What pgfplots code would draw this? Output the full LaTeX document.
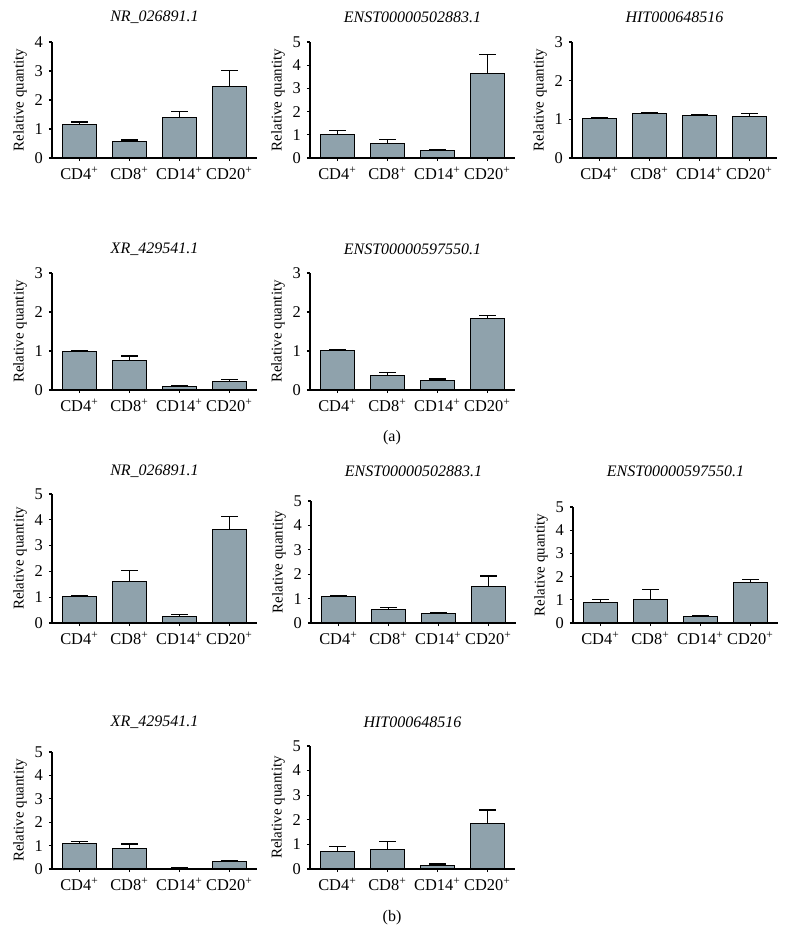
\documentclass[border=0pt]{standalone}
\usepackage{pgfplots}
\pgfplotsset{compat=1.18}
\usepackage{fontspec}
\setmainfont{Liberation Serif}
\definecolor{barc}{RGB}{143,162,172}
\pgfplotsset{
  qp/.style={
    ybar, scale only axis, width=102.5pt,
    bar width=17pt,
    xmin=-0.55, xmax=3.55, ymin=0,
    xtick={0,1,2,3},
    xticklabels={CD4\textsuperscript{+},CD8\textsuperscript{+},CD14\textsuperscript{+},CD20\textsuperscript{+}},
    axis lines*=left,
    axis line style={line width=0.6pt},
    tick align=outside, major tick length=1.6pt,
    every tick/.style={black, line width=0.6pt},
    tick label style={font=\fontsize{8.2}{9}\selectfont},
    /pgf/number format/assume math mode=true,
    xticklabel style={yshift=0.5pt},
    yticklabel style={xshift=0.5pt},
    ylabel={Relative quantity},
    ylabel style={at={(axis description cs:-0.156,0.5)}, anchor=center, font=\fontsize{7.5}{9}\selectfont},
    title style={at={(axis description cs:0.5,1)}, anchor=center, font=\fontsize{8}{9}\selectfont\itshape},
    anchor=south west,
    clip=false,
  },
  qb/.style={fill=barc, draw=black, line width=0.5pt,
    error bars/y dir=plus, error bars/y explicit,
    error bars/error bar style={line width=0.6pt, black},
    error bars/error mark=|,
    error bars/error mark options={mark size=4.25pt, line width=0.6pt, black}},
}
\begin{document}
\begin{tikzpicture}
\path[use as bounding box] (0,0) rectangle (393pt,476pt);
% ---------- (a) row 1 ----------
\begin{axis}[qp, at={(26pt,397pt)}, height=58pt, ymax=4, ytick={0,1,2,3,4},
  title={NR\_026891.1}, title style={yshift=6.5pt}]
\addplot[qb] coordinates {(0,1.14) +- (0,0.10) (1,0.56) +- (0,0.06) (2,1.39) +- (0,0.21) (3,2.47) +- (0,0.54)};
\end{axis}
\begin{axis}[qp, at={(155pt,397pt)}, height=58pt, ymax=5, ytick={0,1,2,3,4,5},
  title={ENST00000502883.1}, title style={yshift=6.5pt}]
\addplot[qb] coordinates {(0,1.00) +- (0,0.17) (1,0.64) +- (0,0.16) (2,0.33) +- (0,0.05) (3,3.65) +- (0,0.82)};
\end{axis}
\begin{axis}[qp, at={(286pt,397pt)}, height=58pt, ymax=3, ytick={0,1,2,3},
  title={HIT000648516}, title style={yshift=6.5pt}]
\addplot[qb] coordinates {(0,1.02) +- (0,0.03) (1,1.15) +- (0,0.03) (2,1.09) +- (0,0.02) (3,1.07) +- (0,0.08)};
\end{axis}
% ---------- (a) row 2 ----------
\begin{axis}[qp, at={(26pt,281pt)}, height=58.5pt, ymax=3, ytick={0,1,2,3},
  title={XR\_429541.1}, title style={yshift=6pt}]
\addplot[qb] coordinates {(0,0.99) +- (0,0.03) (1,0.76) +- (0,0.11) (2,0.08) +- (0,0.03) (3,0.22) +- (0,0.05)};
\end{axis}
\begin{axis}[qp, at={(155pt,281pt)}, height=58.5pt, ymax=3, ytick={0,1,2,3},
  title={ENST00000597550.1}, title style={yshift=6pt}]
\addplot[qb] coordinates {(0,1.01) +- (0,0.02) (1,0.38) +- (0,0.07) (2,0.25) +- (0,0.03) (3,1.84) +- (0,0.06)};
\end{axis}
\node[font=\fontsize{8}{9}\selectfont] at (196pt,257pt) {(a)};
% ---------- (b) row 1 ----------
\begin{axis}[qp, at={(26pt,164.5pt)}, height=64.5pt, ymax=5, ytick={0,1,2,3,4,5},
  title={NR\_026891.1}, title style={yshift=5.5pt}]
\addplot[qb] coordinates {(0,1.01) +- (0,0.05) (1,1.60) +- (0,0.42) (2,0.26) +- (0,0.08) (3,3.62) +- (0,0.50)};
\end{axis}
\begin{axis}[qp, at={(155.5pt,164.5pt)}, height=61pt, ymax=5, ytick={0,1,2,3,4,5},
  title={ENST00000502883.1}, title style={yshift=9pt}]
\addplot[qb] coordinates {(0,1.08) +- (0,0.06) (1,0.54) +- (0,0.11) (2,0.37) +- (0,0.07) (3,1.50) +- (0,0.43)};
\end{axis}
\begin{axis}[qp, at={(286.5pt,164.5pt)}, height=58pt, ymax=5, ytick={0,1,2,3,4,5},
  title={ENST00000597550.1}, title style={yshift=12pt}]
\addplot[qb] coordinates {(0,0.87) +- (0,0.14) (1,1.03) +- (0,0.43) (2,0.26) +- (0,0.04) (3,1.76) +- (0,0.10)};
\end{axis}
% ---------- (b) row 2 ----------
\begin{axis}[qp, at={(26pt,41.5pt)}, height=58.5pt, ymax=5, ytick={0,1,2,3,4,5},
  title={XR\_429541.1}, title style={yshift=9pt}]
\addplot[qb] coordinates {(0,1.10) +- (0,0.07) (1,0.88) +- (0,0.19) (2,0.04) +- (0,0.02) (3,0.30) +- (0,0.08)};
\end{axis}
\begin{axis}[qp, at={(155pt,41.5pt)}, height=61.5pt, ymax=5, ytick={0,1,2,3,4,5},
  title={HIT000648516}, title style={yshift=6pt}]
\addplot[qb] coordinates {(0,0.72) +- (0,0.18) (1,0.80) +- (0,0.31) (2,0.14) +- (0,0.06) (3,1.83) +- (0,0.57)};
\end{axis}
\node[font=\fontsize{8}{9}\selectfont] at (196pt,17pt) {(b)};
\end{tikzpicture}
\end{document}
